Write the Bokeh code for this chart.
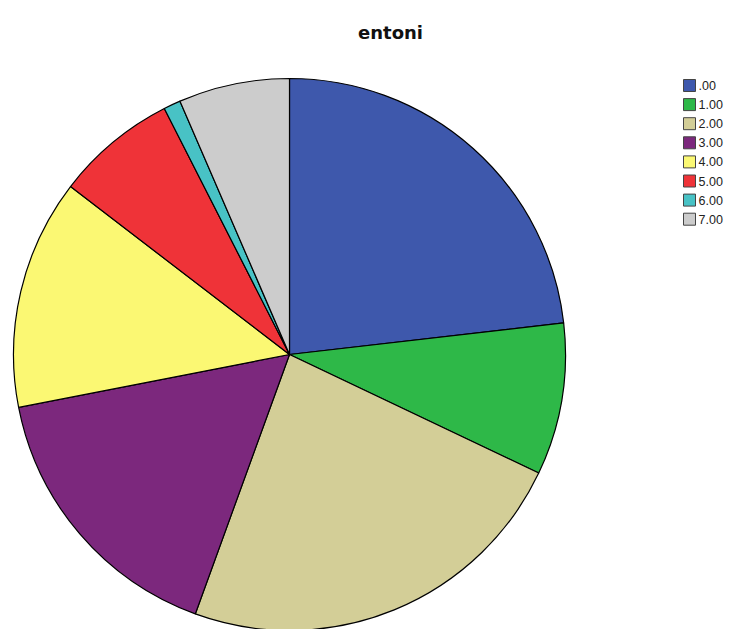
import math
from bokeh.plotting import figure
from bokeh.models import ColumnDataSource, Range1d
from bokeh.core.properties import value
from bokeh.embed import file_html
from bokeh.resources import INLINE

categories = [".00", "1.00", "2.00", "3.00", "4.00", "5.00", "6.00", "7.00"]
values = [23.2, 8.9, 23.5, 16.4, 13.5, 7.1, 1.0, 6.5]
colors = ["#3E58AC", "#2EB848", "#D3CE97", "#7C287D", "#FBF873", "#EF3338", "#48C2C5", "#CCCCCC"]
title_text = "entoni"

W, H = 731, 629
p = figure(width=W, height=H, output_backend="svg", toolbar_location=None,
           x_range=Range1d(0, W), y_range=Range1d(0, H), min_border=0)
p.axis.visible = False
p.grid.visible = False
p.outline_line_color = None
p.background_fill_color = "white"
p.border_fill_color = "white"

total = sum(values)
starts, ends = [], []
cum = 0.0
for v in values:
    a0 = math.pi / 2 - 2 * math.pi * cum / total
    cum += v
    a1 = math.pi / 2 - 2 * math.pi * cum / total
    starts.append(a1)
    ends.append(a0)

cx, cy, r = 289, H - 354, 276
src = ColumnDataSource(dict(start=starts, end=ends, color=colors, cat=categories))
p.wedge(x=cx, y=cy, radius=r, start_angle="start", end_angle="end",
        fill_color="color", line_color="black", line_width=1.2, source=src)

# title
p.text(x=[390], y=[H - 32], text=[title_text], text_font=value("DejaVu Sans"),
       text_font_size="18px", text_font_style="bold", text_align="center",
       text_baseline="alphabetic", text_color="#111111")

# legend
lx, ly0, step = 689, H - 85, 19.1
ys = [ly0 - i * step for i in range(len(categories))]
lsrc = ColumnDataSource(dict(x=[lx] * len(categories), y=ys, color=colors, cat=categories,
                             tx=[lx + 9] * len(categories)))
p.rect(x="x", y="y", width=12, height=12, fill_color="color", line_color="#444444",
       line_width=1, source=lsrc)
p.text(x="tx", y="y", text="cat", text_font=value("Liberation Sans"), text_font_size="12.5px",
       text_baseline="middle", text_align="left", text_color="#222222", source=lsrc)

open("out.html", "w").write(file_html(p, INLINE))
